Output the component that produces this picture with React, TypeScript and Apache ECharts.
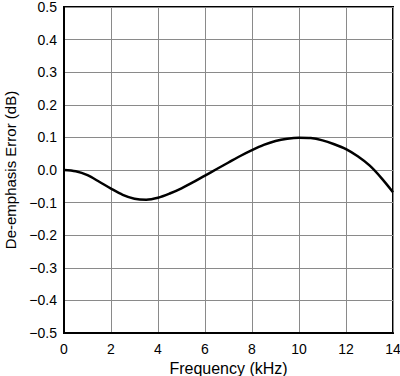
import React, { useEffect, useRef } from "react";
import * as echarts from "echarts";

const frequencyKHz = [0, 0.5, 1, 1.5, 2, 2.5, 3, 3.5, 4, 4.5, 5, 5.5, 6, 6.5, 7, 7.5, 8, 8.5, 9, 9.5, 10, 10.5, 11, 11.5, 12, 12.5, 13, 13.5, 14];
const errorDB = [0, -0.004, -0.016, -0.036, -0.057, -0.076, -0.088, -0.091, -0.085, -0.072, -0.056, -0.037, -0.017, 0.003, 0.023, 0.043, 0.061, 0.077, 0.089, 0.096, 0.099, 0.098, 0.091, 0.079, 0.064, 0.042, 0.014, -0.024, -0.068];

const fmtNum = (v: number, d: number) => {
  const s = Math.abs(v).toFixed(d);
  return v < -1e-9 ? "\u2212" + s : s;
};

export default function App() {
  const ref = useRef<HTMLDivElement>(null);
  useEffect(() => {
    if (!ref.current) return;
    const chart = echarts.init(ref.current, null, { renderer: "svg" });
    const font = "'Liberation Sans', Arial, sans-serif";
    chart.setOption({
      animation: false,
      backgroundColor: "#fff",
      grid: { left: 64, top: 7, right: 7, bottom: 43, show: true, borderColor: "#000", borderWidth: 2, backgroundColor: "transparent", containLabel: false, outerBoundsMode: "none" },
      xAxis: {
        type: "value",
        min: 0,
        max: 14,
        interval: 2,
        name: "Frequency (kHz)",
        nameLocation: "middle",
        nameGap: 23,
        nameTextStyle: { color: "#000", fontSize: 16, lineHeight: 16, fontFamily: font, verticalAlign: "top" },
        axisLine: { show: true, onZero: false, lineStyle: { color: "#000", width: 2 } },
        axisTick: { show: false },
        axisLabel: { color: "#000", fontSize: 14, fontFamily: font, margin: 9, formatter: (v: number) => fmtNum(v, 0) },
        splitLine: { show: true, lineStyle: { color: "#8a8a8a", width: 1 } },
      },
      yAxis: {
        type: "value",
        min: -0.5,
        max: 0.5,
        interval: 0.1,
        name: "De-emphasis Error (dB)",
        nameLocation: "middle",
        nameGap: 46,
        nameTextStyle: { color: "#000", fontSize: 15, fontFamily: font },
        axisLine: { show: true, onZero: false, lineStyle: { color: "#000", width: 2 } },
        axisTick: { show: false },
        axisLabel: { color: "#000", fontSize: 14, lineHeight: 14, fontFamily: font, margin: 7, formatter: (v: number) => fmtNum(v, 1) },
        splitLine: { show: true, lineStyle: { color: "#8a8a8a", width: 1 } },
      },
      series: [
        {
          type: "line",
          data: frequencyKHz.map((f, i) => [f, errorDB[i]]),
          smooth: 0.3,
          showSymbol: false,
          lineStyle: { color: "#000", width: 2.5 },
        },
      ],
    });
    return () => chart.dispose();
  }, []);
  return <div ref={ref} style={{ width: 400, height: 376, position: "absolute", left: 0, top: 0 }} />;
}
